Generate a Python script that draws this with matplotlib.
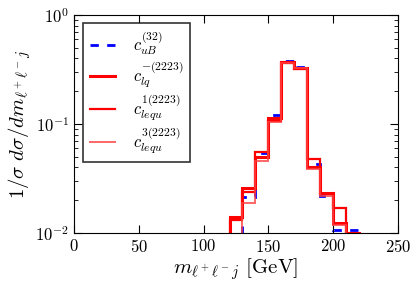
import matplotlib
matplotlib.use("Agg")
import matplotlib.pyplot as plt
import numpy as np

plt.rcParams['mathtext.fontset'] = 'cm'
plt.rcParams['font.family'] = ['cmr10', 'DejaVu Serif']
plt.rcParams['axes.formatter.use_mathtext'] = True
plt.rcParams['axes.unicode_minus'] = False

edges = [120, 130, 140, 150, 160, 170, 180, 190, 200, 210, 220]
c_uB = [0.0085, 0.0215, 0.054, 0.121, 0.378, 0.33, 0.0427, 0.022, 0.0107, 0.0106]
c_lq = [0.014, 0.0257, 0.0495, 0.113, 0.373, 0.329, 0.0406, 0.0234, 0.0123, 0.0101]
c_lequ1 = [0.0132, 0.0236, 0.0557, 0.107, 0.36, 0.32, 0.0474, 0.0228, 0.0169, 0.0092]
c_lequ3 = [0.009, 0.019, 0.046, 0.104, 0.365, 0.325, 0.0386, 0.0218, 0.0118, 0.0095]
labels = [r'$c_{uB}^{(32)}$', r'$c_{lq}^{-(2223)}$', r'$c_{lequ}^{1(2223)}$', r'$c_{lequ}^{3(2223)}$']

fig = plt.figure(figsize=(4.18, 2.88), dpi=100)
ax = fig.add_axes([74/418, 1 - 233/288, 324/418, 218/288])

ax.stairs(c_uB, edges, baseline=1e-4, color='blue', lw=2, ls=(0, (3, 3)), label=labels[0], zorder=1)
ax.stairs(c_lq, edges, baseline=1e-4, color='red', lw=2.2, label=labels[1], zorder=2)
ax.stairs(c_lequ1, edges, baseline=1e-4, color='red', lw=1.6, label=labels[2], zorder=2)
ax.stairs(c_lequ3, edges, baseline=1e-4, color='#ff4040', lw=1.4, alpha=0.8, label=labels[3], zorder=2)

ax.set_yscale('log')
ax.set_xlim(0, 250)
ax.set_ylim(1e-2, 1)
ax.set_xticks([0, 50, 100, 150, 200, 250])
ax.tick_params(which='both', direction='in', top=True, right=True, labelsize=12)
ax.tick_params(which='major', length=6)
ax.tick_params(which='minor', length=3)
ax.set_xlabel(r'$m_{\ell^+\ell^- j}$ [GeV]', fontsize=15, labelpad=1)
ax.set_ylabel(r'$1/\sigma\ d\sigma/dm_{\ell^+\ell^- j}$', fontsize=15, labelpad=2)

leg = ax.legend(loc='upper left', fontsize=12, frameon=True, fancybox=False,
                edgecolor='black', labelspacing=0.15, handlelength=1.5,
                handletextpad=1.1, borderpad=0.4, borderaxespad=0.0,
                bbox_to_anchor=(0.028, 0.965))
leg.get_frame().set_linewidth(1.2)

fig.savefig('out.png', dpi=100)
